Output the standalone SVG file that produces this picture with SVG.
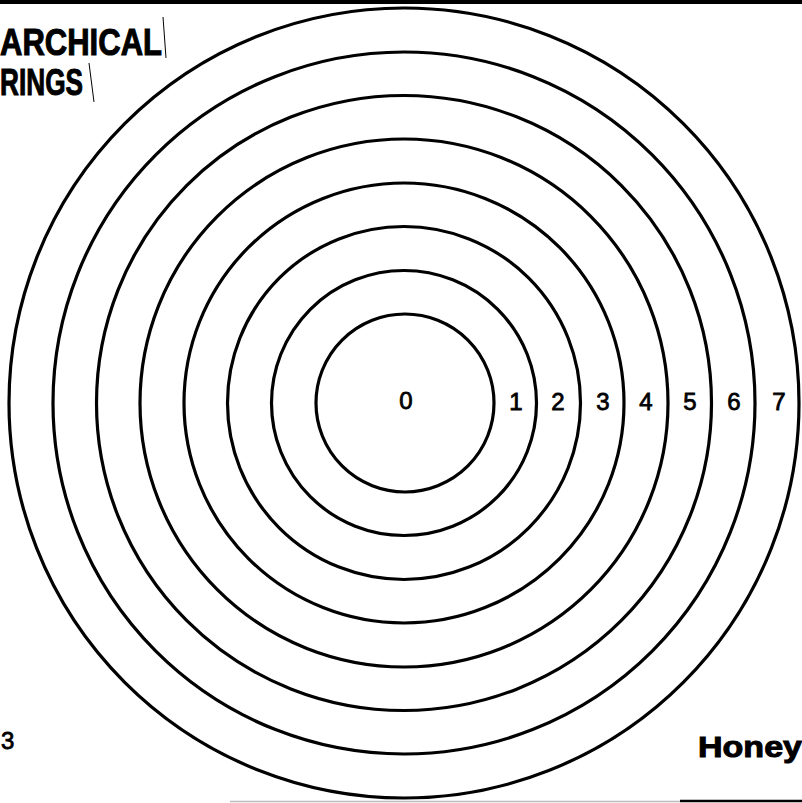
<svg xmlns="http://www.w3.org/2000/svg" width="802" height="803" viewBox="0 0 802 803">
<style>
.ring{fill:none;stroke:#000;stroke-width:3.2}
.num{font-family:"Liberation Sans",Arial,sans-serif;font-size:24px;fill:#000;stroke:#000;stroke-width:0.8;text-anchor:middle}
.title{font-family:"Liberation Sans",Arial,sans-serif;font-weight:bold;fill:#000;stroke:#000;stroke-width:1}
.thin{stroke:#000;stroke-width:1}
</style>
<rect x="0" y="0" width="802" height="803" fill="#fff"/>
<rect x="0" y="0" width="802" height="4" fill="#000"/>
<line x1="230" y1="801.5" x2="680" y2="801.5" stroke="#bbb" stroke-width="1.5"/>
<line x1="680" y1="801" x2="802" y2="801" stroke="#000" stroke-width="2.5"/>
<g id="title">
<text class="title" x="0" y="55" font-size="36" textLength="162" lengthAdjust="spacingAndGlyphs">ARCHICAL</text>
<text class="title" x="0" y="95" font-size="36" textLength="83" lengthAdjust="spacingAndGlyphs">RINGS</text>
<line class="thin" x1="163" y1="17" x2="166" y2="58"/>
<line class="thin" x1="89" y1="63" x2="94" y2="102"/>
</g>
<g id="ring0"><circle class="ring" cx="405" cy="403" r="89" stroke-width="3.6"/><text class="num" x="406" y="409">0</text></g>
<g id="ring1"><circle class="ring" cx="404" cy="403" r="132.5"/><text class="num" x="516" y="410">1</text></g>
<g id="ring2"><circle class="ring" cx="404" cy="403" r="176.5"/><text class="num" x="558" y="410">2</text></g>
<g id="ring3"><circle class="ring" cx="404" cy="403" r="220"/><text class="num" x="603" y="410">3</text></g>
<g id="ring4"><circle class="ring" cx="404" cy="403" r="264"/><text class="num" x="646" y="410">4</text></g>
<g id="ring5"><circle class="ring" cx="404" cy="403" r="307.5"/><text class="num" x="690" y="410">5</text></g>
<g id="ring6"><circle class="ring" cx="404" cy="403" r="351"/><text class="num" x="734" y="410">6</text></g>
<g id="ring7"><circle class="ring" cx="404" cy="403" r="395"/><text class="num" x="779" y="410">7</text></g>
<g id="connectors"></g>
<g id="footer">
<text class="num" x="1" y="749" style="text-anchor:start">3</text>
<text class="title" x="698" y="757" font-size="30" textLength="104" lengthAdjust="spacingAndGlyphs">Honey</text>
</g>
</svg>
